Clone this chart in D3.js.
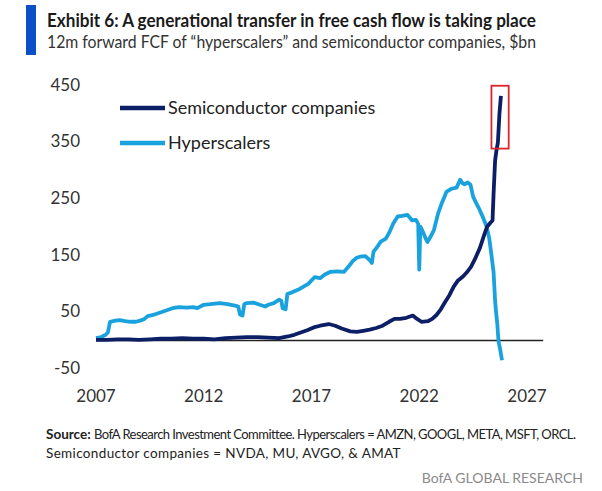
<!DOCTYPE html>
<html>
<head>
<meta charset="utf-8">
<script src="https://cdn.jsdelivr.net/npm/d3@7"></script>
<style>
  body { margin: 0; background: #fff; }
  svg { display: block; font-family: Lato, "Open Sans", sans-serif; }
</style>
</head>
<body>
<script>
// Data ($bn, 12m forward FCF), time as decimal year
var hyperYears = [2007.0, 2007.25, 2007.45, 2007.55, 2007.65, 2007.9, 2008.1, 2008.35, 2008.6, 2008.85,
  2009.05, 2009.25, 2009.4, 2009.65, 2009.95, 2010.25, 2010.55, 2010.85, 2011.2, 2011.5,
  2011.7, 2012.0, 2012.3, 2012.75, 2013.1, 2013.5, 2013.6, 2013.68, 2013.8, 2013.88,
  2014.0, 2014.3, 2014.6, 2014.85, 2015.0, 2015.25, 2015.5, 2015.6, 2015.66, 2015.8,
  2015.88, 2016.1, 2016.45, 2016.85, 2017.15, 2017.4, 2017.6, 2017.86, 2018.2, 2018.5,
  2018.75, 2018.93, 2019.1, 2019.25, 2019.5, 2019.7, 2019.8, 2019.88, 2020.05, 2020.2,
  2020.45, 2020.6, 2020.8, 2021.0, 2021.2, 2021.45, 2021.67, 2021.85, 2021.95, 2022.0,
  2022.05, 2022.12, 2022.3, 2022.38, 2022.55, 2022.68, 2022.88, 2023.05, 2023.27, 2023.5,
  2023.73, 2023.9, 2024.0, 2024.1, 2024.25, 2024.38, 2024.5, 2024.65, 2024.8, 2024.95,
  2025.13, 2025.25, 2025.36, 2025.45, 2025.52, 2025.56, 2025.62, 2025.68, 2025.75, 2025.84];
var hyperValues = [4, 6, 10, 14, 33, 35, 36, 34, 33, 33,
  35, 38, 43, 45, 49, 53, 57, 59, 58, 59,
  57, 63, 64, 66, 64, 61, 60, 46, 44, 64,
  66, 67, 63, 60, 63, 66, 72, 70, 57, 55,
  82, 85, 91, 100, 112, 110, 116, 121, 122, 121,
  132, 141, 146, 148, 149, 142, 137, 157, 165, 174,
  180, 190, 207, 219, 220, 222, 212, 213, 206, 125,
  201, 196, 180, 174, 185, 195, 225, 243, 263, 268,
  270, 284, 278, 276, 279, 275, 254, 242, 231, 218,
  201, 180, 148, 120, 70, 52, 30, -2, -15, -35];

var semiYears = [2007.0, 2007.5, 2008.0, 2008.5, 2009.0, 2009.5, 2010.0, 2010.5, 2011.0, 2011.5,
  2012.0, 2012.5, 2013.0, 2013.5, 2014.0, 2014.5, 2015.0, 2015.5, 2015.9, 2016.2,
  2016.5, 2016.8, 2017.1, 2017.4, 2017.8, 2018.1, 2018.4, 2018.8, 2019.1, 2019.4,
  2019.7, 2020.0, 2020.3, 2020.6, 2020.85, 2021.1, 2021.4, 2021.7, 2021.9, 2022.1,
  2022.4, 2022.6, 2022.8, 2023.0, 2023.2, 2023.4, 2023.6, 2023.8, 2024.03, 2024.2,
  2024.4, 2024.6, 2024.82, 2025.0, 2025.15, 2025.3, 2025.4, 2025.45, 2025.52, 2025.58,
  2025.65, 2025.72, 2025.79];
var semiValues = [1, 1, 2, 2, 1, 2, 3, 3, 4, 3,
  3, 2, 4, 5, 6, 6, 5, 4, 7, 10,
  14, 18, 23, 26, 29, 26, 21, 16, 15, 17,
  19, 22, 26, 33, 38, 38, 40, 44, 38, 33,
  34, 38, 45, 55, 68, 80, 95, 106, 113, 120,
  130, 145, 164, 185, 201, 208, 212, 260, 318, 335,
  350, 400, 432];

var xTicks = [2007, 2012, 2017, 2022, 2027];
var yTicks = [-50, 50, 150, 250, 350, 450];

// highlight box round the latest semiconductor reading: [t0, t1], [v0, v1]
var boxYears = [2025.35, 2026.15];
var boxValues = [339, 450];

var width = 602, height = 491;

var svg = d3.select("body")
  .append("svg")
    .attr("width", width)
    .attr("height", height);

var x = d3.scaleLinear()
  .domain([2007, 2027])
  .range([96, 527]);

var y = d3.scaleLinear()
  .domain([-50, 450])
  .range([368.75, 85.75]);

// Title block
svg.append("rect")
  .attr("x", 26).attr("y", 5)
  .attr("width", 10).attr("height", 50)
  .attr("fill", "#0b50c6");

svg.append("text")
  .attr("x", 47).attr("y", 27)
  .attr("textLength", 489)
  .attr("lengthAdjust", "spacingAndGlyphs")
  .style("font-size", "19px")
  .style("font-weight", "bold")
  .attr("fill", "#1a1a1a")
  .text("Exhibit 6: A generational transfer in free cash flow is taking place");

svg.append("text")
  .attr("x", 47).attr("y", 48)
  .attr("textLength", 489)
  .attr("lengthAdjust", "spacingAndGlyphs")
  .style("font-size", "17px")
  .attr("fill", "#333")
  .text("12m forward FCF of \u201chyperscalers\u201d and semiconductor companies, $bn");

// Y tick labels (no axis line, no ticks)
svg.append("g")
  .selectAll("text")
  .data(yTicks)
  .enter()
  .append("text")
    .attr("x", 80)
    .attr("y", function(d) { return y(d); })
    .attr("dy", "0.3em")
    .attr("text-anchor", "end")
    .style("font-size", "17px")
    .attr("fill", "#333")
    .text(function(d) { return d; });

// X tick labels
svg.append("g")
  .selectAll("text")
  .data(xTicks)
  .enter()
  .append("text")
    .attr("x", function(d) { return x(d); })
    .attr("y", 402)
    .attr("text-anchor", "middle")
    .style("font-size", "17px")
    .attr("fill", "#333")
    .text(function(d) { return d; });

// Zero line
svg.append("line")
  .attr("x1", x(2007)).attr("x2", x(2027.75))
  .attr("y1", y(0)).attr("y2", y(0))
  .attr("stroke", "#222")
  .attr("stroke-width", 1.6);

var line = d3.line()
  .x(function(d) { return x(d[0]); })
  .y(function(d) { return y(d[1]); });

var hyper = d3.zip(hyperYears, hyperValues);
var semi = d3.zip(semiYears, semiValues);

svg.append("path")
  .datum(hyper)
  .attr("fill", "none")
  .attr("stroke", "#1aa2df")
  .attr("stroke-width", 3.8)
  .attr("stroke-linejoin", "round")
  .attr("d", line);

svg.append("path")
  .datum(semi)
  .attr("fill", "none")
  .attr("stroke", "#0c1f66")
  .attr("stroke-width", 3.8)
  .attr("stroke-linejoin", "round")
  .attr("d", line);

// Red highlight box
svg.append("rect")
  .attr("x", x(boxYears[0]))
  .attr("y", y(boxValues[1]))
  .attr("width", x(boxYears[1]) - x(boxYears[0]))
  .attr("height", y(boxValues[0]) - y(boxValues[1]))
  .attr("fill", "none")
  .attr("stroke", "#d8262e")
  .attr("stroke-width", 1.8);

// Legend
var legend = [
  {name: "Semiconductor companies", color: "#0c1f66", y: 108},
  {name: "Hyperscalers", color: "#1aa2df", y: 143}
];
var lg = svg.append("g")
  .selectAll("g")
  .data(legend)
  .enter()
  .append("g");
lg.append("line")
  .attr("x1", 120).attr("x2", 165)
  .attr("y1", function(d) { return d.y; })
  .attr("y2", function(d) { return d.y; })
  .attr("stroke", function(d) { return d.color; })
  .attr("stroke-width", 4.5);
lg.append("text")
  .attr("x", 168)
  .attr("y", function(d) { return d.y; })
  .attr("dy", "0.35em")
  .style("font-size", "18px")
  .attr("fill", "#222")
  .text(function(d) { return d.name; });

// Source notes
svg.append("text")
  .attr("x", 46).attr("y", 439)
  .style("font-size", "13.5px")
  .style("font-weight", "bold")
  .attr("fill", "#222")
  .text("Source:");
svg.append("text")
  .attr("x", 94).attr("y", 439)
  .style("font-size", "13px")
  .style("letter-spacing", "-0.55px")
  .attr("fill", "#222")
  .text("BofA Research Investment Committee. Hyperscalers = AMZN, GOOGL, META, MSFT, ORCL.");

svg.append("text")
  .attr("x", 46).attr("y", 458)
  .style("font-size", "13.5px")
  .style("letter-spacing", "0.35px")
  .attr("fill", "#222")
  .text("Semiconductor companies = NVDA, MU, AVGO, & AMAT");

svg.append("text")
  .attr("x", 583).attr("y", 483)
  .attr("text-anchor", "end")
  .style("font-size", "14px")
  .attr("fill", "#8a8a8a")
  .text("BofA GLOBAL RESEARCH");
</script>
</body>
</html>
